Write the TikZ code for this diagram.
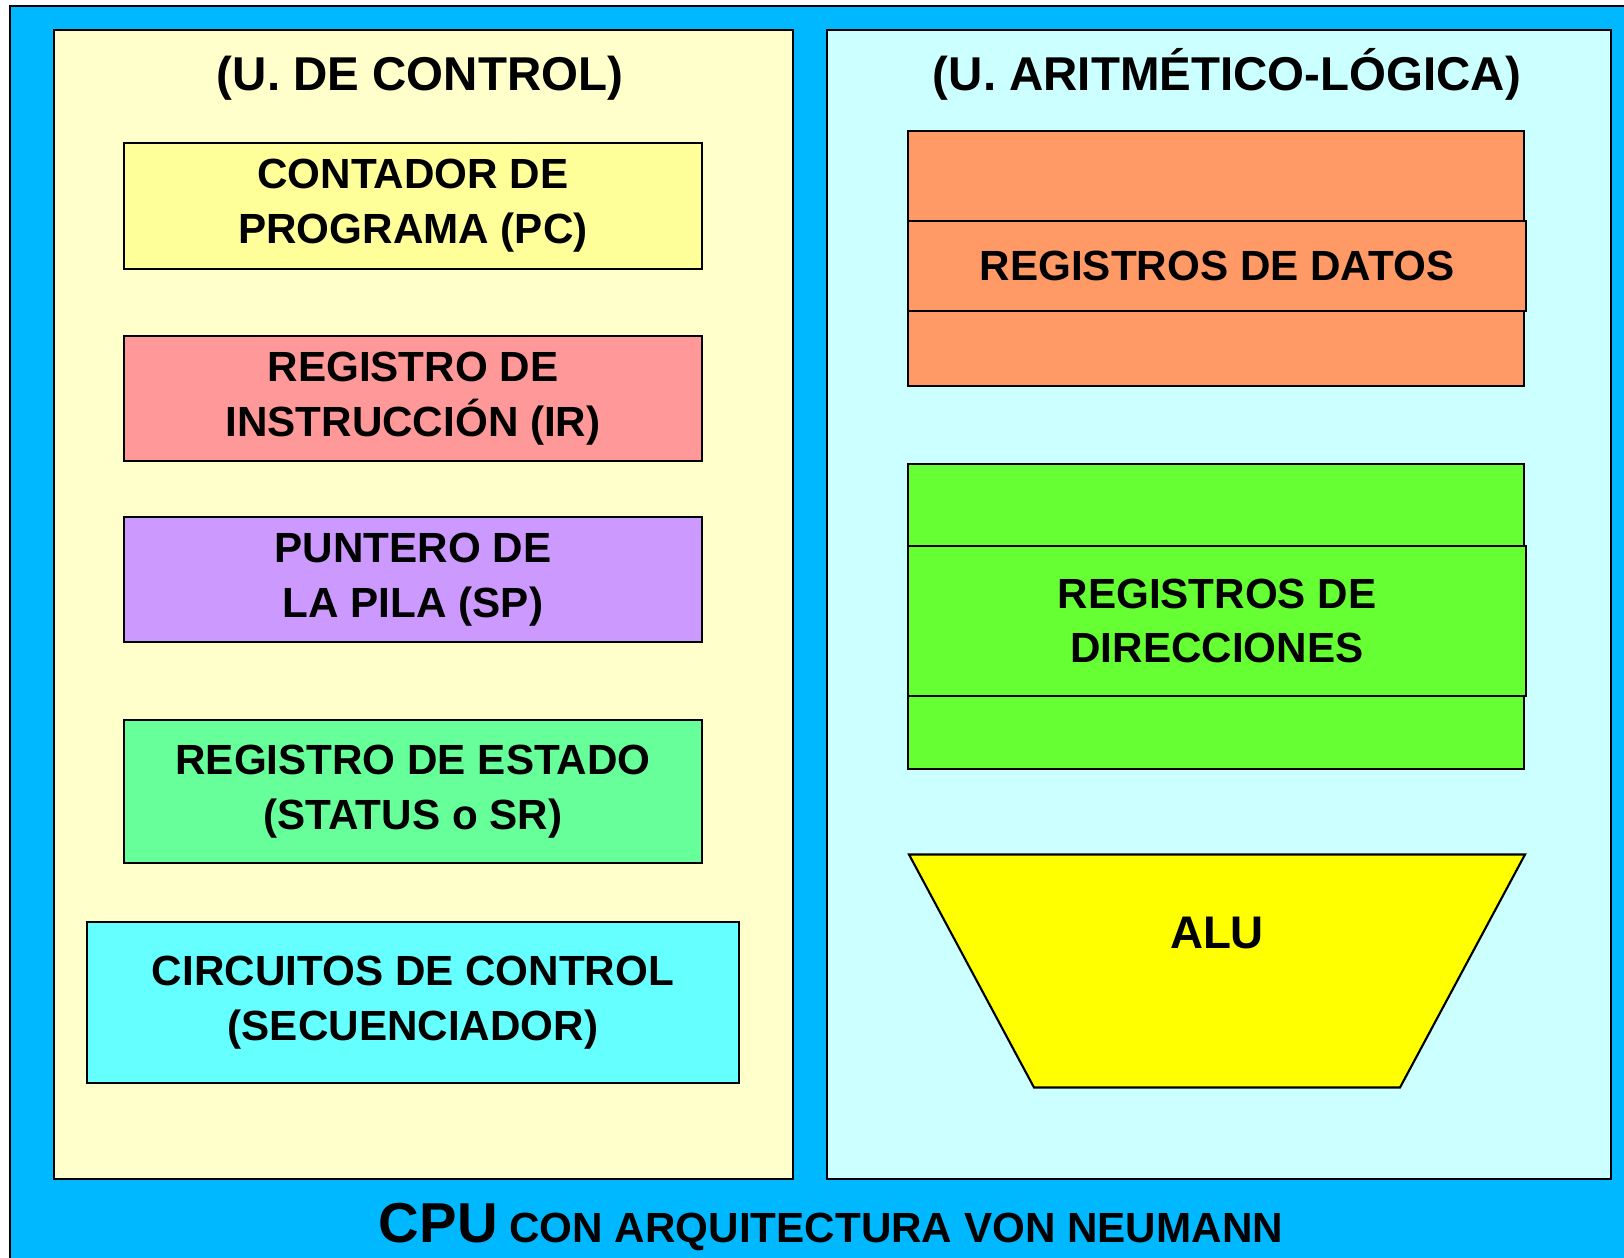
\documentclass[tikz,border=0pt]{standalone}
\usepackage{fontspec}
\setmainfont{Liberation Sans}
\definecolor{cpublue}{HTML}{00B8FF}
\definecolor{ucback}{HTML}{FFFFCC}
\definecolor{aluback}{HTML}{CCFFFF}
\definecolor{pcfill}{HTML}{FFFF99}
\definecolor{irfill}{HTML}{FF9999}
\definecolor{spfill}{HTML}{CC99FF}
\definecolor{srfill}{HTML}{66FF99}
\definecolor{seqfill}{HTML}{66FFFF}
\definecolor{datfill}{HTML}{FF9966}
\definecolor{dirfill}{HTML}{66FF33}
\definecolor{alufill}{HTML}{FFFF00}
\begin{document}
\begin{tikzpicture}[x=0.01cm,y=-0.01cm,
    panel/.style={draw=black,line width=0.6pt},
    reg/.style={draw=black,line width=0.6pt,inner sep=0pt,align=center,
      font=\fontsize{12}{15.6}\selectfont\bfseries},
    heading/.style={anchor=base,font=\fontsize{13.5}{16}\selectfont\bfseries}]
  \useasboundingbox (0,0) rectangle (1624,1258);
  \clip (0,0) rectangle (1624,1258);
  % frame and the two units
  \draw[panel,fill=cpublue] (10,6) rectangle (1650,1280);
  \draw[panel,fill=ucback] (54,30) rectangle (793,1179);
  \draw[panel,fill=aluback] (827,30) rectangle (1611,1179);
  \node[heading] (uc) at (420,91) {(U. DE CONTROL)};
  \node[heading] (ual) at (1227,91) {(U. ARITMÉTICO-LÓGICA)};
  % control unit registers
  \node[reg,fill=pcfill,minimum width=5.78cm,minimum height=1.26cm]
    (pc) at (413,206) {CONTADOR DE\\PROGRAMA (PC)};
  \node[reg,fill=irfill,minimum width=5.78cm,minimum height=1.25cm]
    (ir) at (413,398.5) {REGISTRO DE\\INSTRUCCIÓN (IR)};
  \node[reg,fill=spfill,minimum width=5.78cm,minimum height=1.25cm]
    (sp) at (413,579.5) {PUNTERO DE\\LA PILA (SP)};
  \node[reg,fill=srfill,minimum width=5.78cm,minimum height=1.43cm]
    (sr) at (413,791.5) {REGISTRO DE ESTADO\\(STATUS o SR)};
  \node[reg,fill=seqfill,minimum width=6.52cm,minimum height=1.61cm]
    (seq) at (413,1002.5) {CIRCUITOS DE CONTROL\\(SECUENCIADOR)};
  % arithmetic-logic unit
  \node[reg,fill=datfill,minimum width=6.16cm,minimum height=2.545cm]
    (datbank) at (1216,258.75) {};
  \node[reg,fill=datfill,minimum width=6.18cm,minimum height=0.90cm]
    (dat) at (1217,265.6) {REGISTROS DE DATOS};
  \node[reg,fill=dirfill,minimum width=6.16cm,minimum height=3.045cm]
    (dirbank) at (1216,616.25) {};
  \node[reg,fill=dirfill,minimum width=6.18cm,minimum height=1.50cm]
    (dir) at (1217,621) {REGISTROS DE\\DIRECCIONES};
  \draw[panel,fill=alufill] (909,854.5) -- (1525,854.5) -- (1400,1087.5)
    -- (1034,1087.5) -- cycle;
  \node[font=\fontsize{13}{16}\selectfont\bfseries] (alu) at (1217,933) {ALU};
  % caption
  \node[anchor=base,font=\fontsize{12}{15}\selectfont\bfseries] (cpu) at (831,1242)
    {{\fontsize{16}{19}\selectfont CPU} CON ARQUITECTURA VON NEUMANN};
\end{tikzpicture}
\end{document}
